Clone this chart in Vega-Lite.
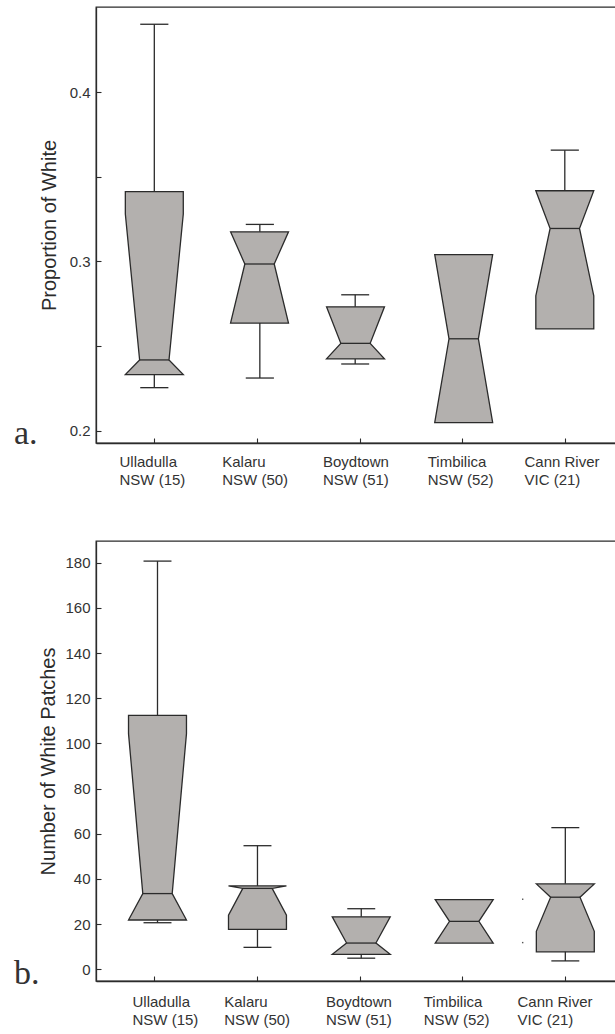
{
  "$schema": "https://vega.github.io/schema/vega-lite/v6.json",
  "padding": {"left": 13, "top": 6, "right": 0, "bottom": 0},
  "background": "white",
  "spacing": 52,
  "config": {
    "font": "Liberation Sans",
    "view": {"stroke": "#2b2b2b", "strokeWidth": 1.3},
    "axis": {
      "grid": false,
      "domainColor": "#2b2b2b",
      "domainWidth": 1.3,
      "tickColor": "#2b2b2b",
      "tickWidth": 1.1,
      "tickSize": -5,
      "labelColor": "#333333",
      "labelFont": "Liberation Sans",
      "labelFontSize": 15,
      "titleColor": "#2b2b2b",
      "titleFont": "Liberation Sans",
      "titleFontSize": 20,
      "titleFontWeight": "normal",
      "labelOverlap": false,
      "labelFlush": false,
      "labelBound": false
    }
  },
  "datasets": {
    "shape": [
      {"panel": "a", "site": "Ulladulla", "y": 0.2331, "xl": 0.721, "xr": 1.285},
      {"panel": "a", "site": "Ulladulla", "y": 0.2418, "xl": 0.860, "xr": 1.146},
      {"panel": "a", "site": "Ulladulla", "y": 0.3280, "xl": 0.721, "xr": 1.285},
      {"panel": "a", "site": "Ulladulla", "y": 0.3413, "xl": 0.721, "xr": 1.285},
      {"panel": "a", "site": "Kalaru", "y": 0.2636, "xl": 1.745, "xr": 2.309},
      {"panel": "a", "site": "Kalaru", "y": 0.2985, "xl": 1.884, "xr": 2.170},
      {"panel": "a", "site": "Kalaru", "y": 0.3175, "xl": 1.745, "xr": 2.309},
      {"panel": "a", "site": "Boydtown", "y": 0.2424, "xl": 2.679, "xr": 3.243},
      {"panel": "a", "site": "Boydtown", "y": 0.2516, "xl": 2.818, "xr": 3.104},
      {"panel": "a", "site": "Boydtown", "y": 0.2732, "xl": 2.679, "xr": 3.243},
      {"panel": "a", "site": "Timbilica", "y": 0.2047, "xl": 3.732, "xr": 4.296},
      {"panel": "a", "site": "Timbilica", "y": 0.2543, "xl": 3.871, "xr": 4.157},
      {"panel": "a", "site": "Timbilica", "y": 0.3040, "xl": 3.732, "xr": 4.296},
      {"panel": "a", "site": "Cann River", "y": 0.2601, "xl": 4.716, "xr": 5.280},
      {"panel": "a", "site": "Cann River", "y": 0.2797, "xl": 4.716, "xr": 5.280},
      {"panel": "a", "site": "Cann River", "y": 0.3195, "xl": 4.855, "xr": 5.141},
      {"panel": "a", "site": "Cann River", "y": 0.3418, "xl": 4.716, "xr": 5.280},
      {"panel": "b", "site": "Ulladulla", "y": 21.8, "xl": 0.752, "xr": 1.316},
      {"panel": "b", "site": "Ulladulla", "y": 33.5, "xl": 0.891, "xr": 1.177},
      {"panel": "b", "site": "Ulladulla", "y": 104.3, "xl": 0.752, "xr": 1.316},
      {"panel": "b", "site": "Ulladulla", "y": 112.4, "xl": 0.752, "xr": 1.316},
      {"panel": "b", "site": "Kalaru", "y": 17.7, "xl": 1.725, "xr": 2.289},
      {"panel": "b", "site": "Kalaru", "y": 23.9, "xl": 1.725, "xr": 2.289},
      {"panel": "b", "site": "Kalaru", "y": 35.8, "xl": 1.864, "xr": 2.150},
      {"panel": "b", "site": "Kalaru", "y": 36.9, "xl": 1.725, "xr": 2.289},
      {"panel": "b", "site": "Boydtown", "y": 6.6, "xl": 2.735, "xr": 3.299},
      {"panel": "b", "site": "Boydtown", "y": 11.6, "xl": 2.874, "xr": 3.160},
      {"panel": "b", "site": "Boydtown", "y": 23.2, "xl": 2.735, "xr": 3.299},
      {"panel": "b", "site": "Timbilica", "y": 11.6, "xl": 3.737, "xr": 4.301},
      {"panel": "b", "site": "Timbilica", "y": 21.2, "xl": 3.876, "xr": 4.162},
      {"panel": "b", "site": "Timbilica", "y": 30.8, "xl": 3.737, "xr": 4.301},
      {"panel": "b", "site": "Cann River", "y": 7.7, "xl": 4.721, "xr": 5.285},
      {"panel": "b", "site": "Cann River", "y": 16.8, "xl": 4.721, "xr": 5.285},
      {"panel": "b", "site": "Cann River", "y": 31.9, "xl": 4.860, "xr": 5.146},
      {"panel": "b", "site": "Cann River", "y": 37.8, "xl": 4.721, "xr": 5.285}
    ],
    "hseg": [
      {"panel": "a", "site": "Ulladulla", "kind": "median", "y": 0.2418, "xl": 0.860, "xr": 1.146},
      {"panel": "a", "site": "Ulladulla", "kind": "cap", "y": 0.4402, "xl": 0.866, "xr": 1.140},
      {"panel": "a", "site": "Ulladulla", "kind": "cap", "y": 0.2254, "xl": 0.866, "xr": 1.140},
      {"panel": "a", "site": "Kalaru", "kind": "median", "y": 0.2985, "xl": 1.884, "xr": 2.170},
      {"panel": "a", "site": "Kalaru", "kind": "cap", "y": 0.3219, "xl": 1.893, "xr": 2.167},
      {"panel": "a", "site": "Kalaru", "kind": "cap", "y": 0.2311, "xl": 1.893, "xr": 2.167},
      {"panel": "a", "site": "Boydtown", "kind": "median", "y": 0.2516, "xl": 2.818, "xr": 3.104},
      {"panel": "a", "site": "Boydtown", "kind": "cap", "y": 0.2803, "xl": 2.822, "xr": 3.094},
      {"panel": "a", "site": "Boydtown", "kind": "cap", "y": 0.2394, "xl": 2.822, "xr": 3.094},
      {"panel": "a", "site": "Timbilica", "kind": "median", "y": 0.2543, "xl": 3.871, "xr": 4.157},
      {"panel": "a", "site": "Cann River", "kind": "median", "y": 0.3195, "xl": 4.855, "xr": 5.141},
      {"panel": "a", "site": "Cann River", "kind": "cap", "y": 0.3658, "xl": 4.861, "xr": 5.135},
      {"panel": "b", "site": "Ulladulla", "kind": "median", "y": 33.5, "xl": 0.891, "xr": 1.177},
      {"panel": "b", "site": "Ulladulla", "kind": "cap", "y": 180.7, "xl": 0.898, "xr": 1.170},
      {"panel": "b", "site": "Ulladulla", "kind": "cap", "y": 20.6, "xl": 0.898, "xr": 1.170},
      {"panel": "b", "site": "Kalaru", "kind": "median", "y": 35.8, "xl": 1.864, "xr": 2.150},
      {"panel": "b", "site": "Kalaru", "kind": "cap", "y": 54.7, "xl": 1.871, "xr": 2.143},
      {"panel": "b", "site": "Kalaru", "kind": "cap", "y": 9.7, "xl": 1.871, "xr": 2.143},
      {"panel": "b", "site": "Boydtown", "kind": "median", "y": 11.6, "xl": 2.874, "xr": 3.160},
      {"panel": "b", "site": "Boydtown", "kind": "cap", "y": 26.8, "xl": 2.881, "xr": 3.153},
      {"panel": "b", "site": "Boydtown", "kind": "cap", "y": 4.9, "xl": 2.881, "xr": 3.153},
      {"panel": "b", "site": "Timbilica", "kind": "median", "y": 21.2, "xl": 3.876, "xr": 4.162},
      {"panel": "b", "site": "Cann River", "kind": "median", "y": 31.9, "xl": 4.860, "xr": 5.146},
      {"panel": "b", "site": "Cann River", "kind": "cap", "y": 62.7, "xl": 4.867, "xr": 5.139},
      {"panel": "b", "site": "Cann River", "kind": "cap", "y": 3.7, "xl": 4.867, "xr": 5.139}
    ],
    "vseg": [
      {"panel": "a", "site": "Ulladulla", "x": 1.003, "y1": 0.3413, "y2": 0.4402},
      {"panel": "a", "site": "Ulladulla", "x": 1.003, "y1": 0.2254, "y2": 0.2331},
      {"panel": "a", "site": "Kalaru", "x": 2.030, "y1": 0.3175, "y2": 0.3219},
      {"panel": "a", "site": "Kalaru", "x": 2.030, "y1": 0.2311, "y2": 0.2636},
      {"panel": "a", "site": "Boydtown", "x": 2.958, "y1": 0.2732, "y2": 0.2803},
      {"panel": "a", "site": "Boydtown", "x": 2.958, "y1": 0.2394, "y2": 0.2424},
      {"panel": "a", "site": "Cann River", "x": 4.998, "y1": 0.3418, "y2": 0.3658},
      {"panel": "b", "site": "Ulladulla", "x": 1.034, "y1": 112.4, "y2": 180.7},
      {"panel": "b", "site": "Ulladulla", "x": 1.034, "y1": 20.6, "y2": 21.8},
      {"panel": "b", "site": "Kalaru", "x": 2.007, "y1": 36.9, "y2": 54.7},
      {"panel": "b", "site": "Kalaru", "x": 2.007, "y1": 9.7, "y2": 17.7},
      {"panel": "b", "site": "Boydtown", "x": 3.017, "y1": 23.2, "y2": 26.8},
      {"panel": "b", "site": "Boydtown", "x": 3.017, "y1": 4.9, "y2": 6.6},
      {"panel": "b", "site": "Cann River", "x": 5.003, "y1": 37.8, "y2": 62.7},
      {"panel": "b", "site": "Cann River", "x": 5.003, "y1": 3.7, "y2": 7.7}
    ],
    "dots": [
      {"panel": "b", "site": "Cann River", "x": 4.588, "y": 31.0},
      {"panel": "b", "site": "Cann River", "x": 4.588, "y": 11.8}
    ],
    "tags": [
      {"panel": "a", "tag": "a."},
      {"panel": "b", "tag": "b."}
    ]
  },
  "vconcat": [
    {
      "width": 521,
      "height": 436,
      "layer": [
        {
          "data": {"name": "shape"},
          "transform": [{"filter": "datum.panel == 'a'"}],
          "mark": {"type": "area", "orient": "horizontal", "fill": "#b3b0ae", "fillOpacity": 1, "stroke": "#2b2b2b", "strokeWidth": 1.3, "strokeJoin": "miter"},
          "encoding": {
            "y": {
              "field": "y", "type": "quantitative", "title": "Proportion of White",
              "scale": {"domain": [0.1927, 0.4504], "nice": false, "zero": false},
              "axis": {
                "values": [0.2, 0.25, 0.3, 0.35, 0.4],
                "labelExpr": "abs(datum.value * 10 - round(datum.value * 10)) > 0.01 ? '' : format(datum.value, '.1f')",
                "labelPadding": 11,
                "titlePadding": 10
              }
            },
            "x": {
              "field": "xl", "type": "quantitative", "title": null,
              "scale": {"domain": [0.4355, 5.506], "nice": false, "zero": false},
              "axis": {
                "values": [1, 2, 3, 4, 5],
                "labelExpr": "[['Ulladulla', 'NSW (15)'], ['Kalaru', 'NSW (50)'], ['Boydtown', 'NSW (51)'], ['Timbilica', 'NSW (52)'], ['Cann River', 'VIC (21)']][datum.value - 1]",
                "labelAlign": "left",
                "labelBaseline": "top",
                "labelLineHeight": 18,
                "labelPadding": 16,
                "labelOffset": {"condition": [{"test": "datum.value == 5", "value": -41}, {"test": "datum.value == 3", "value": -37}], "value": -35}
              }
            },
            "x2": {"field": "xr"},
            "detail": {"field": "site", "type": "nominal"}
          }
        },
        {
          "data": {"name": "hseg"},
          "transform": [{"filter": "datum.panel == 'a'"}],
          "mark": {"type": "rule", "color": "#2b2b2b", "strokeWidth": 1.3},
          "encoding": {
            "y": {"field": "y", "type": "quantitative", "title": "Proportion of White"},
            "x": {"field": "xl", "type": "quantitative", "title": null},
            "x2": {"field": "xr"}
          }
        },
        {
          "data": {"name": "vseg"},
          "transform": [{"filter": "datum.panel == 'a'"}],
          "mark": {"type": "rule", "color": "#2b2b2b", "strokeWidth": 1.3},
          "encoding": {
            "x": {"field": "x", "type": "quantitative", "title": null},
            "y": {"field": "y1", "type": "quantitative", "title": "Proportion of White"},
            "y2": {"field": "y2"}
          }
        },
        {
          "data": {"name": "tags"},
          "transform": [{"filter": "datum.panel == 'a'"}],
          "mark": {"type": "text", "font": "Liberation Serif", "fontSize": 34, "align": "left", "baseline": "alphabetic", "dx": -82, "dy": 1, "color": "#333333"},
          "encoding": {
            "x": {"datum": 0.4355, "type": "quantitative"},
            "y": {"datum": 0.1927, "type": "quantitative"},
            "text": {"field": "tag"}
          }
        }
      ]
    },
    {
      "width": 521,
      "height": 440,
      "layer": [
        {
          "data": {"name": "shape"},
          "transform": [{"filter": "datum.panel == 'b'"}],
          "mark": {"type": "area", "orient": "horizontal", "fill": "#b3b0ae", "fillOpacity": 1, "stroke": "#2b2b2b", "strokeWidth": 1.3, "strokeJoin": "miter"},
          "encoding": {
            "y": {
              "field": "y", "type": "quantitative", "title": "Number of White Patches",
              "scale": {"domain": [-5.2, 189.6], "nice": false, "zero": false},
              "axis": {
                "values": [0, 20, 40, 60, 80, 100, 120, 140, 160, 180],
                "labelPadding": 11,
                "titlePadding": 6
              }
            },
            "x": {
              "field": "xl", "type": "quantitative", "title": null,
              "scale": {"domain": [0.4355, 5.506], "nice": false, "zero": false},
              "axis": {
                "values": [1, 2, 3, 4, 5],
                "labelExpr": "[['Ulladulla', 'NSW (15)'], ['Kalaru', 'NSW (50)'], ['Boydtown', 'NSW (51)'], ['Timbilica', 'NSW (52)'], ['Cann River', 'VIC (21)']][datum.value - 1]",
                "labelAlign": "left",
                "labelBaseline": "top",
                "labelLineHeight": 18,
                "labelPadding": 18,
                "labelOffset": {"condition": [{"test": "datum.value == 1", "value": -22}, {"test": "datum.value == 2", "value": -33}, {"test": "datum.value == 3", "value": -34}, {"test": "datum.value == 4", "value": -39}], "value": -48}
              }
            },
            "x2": {"field": "xr"},
            "detail": {"field": "site", "type": "nominal"}
          }
        },
        {
          "data": {"name": "hseg"},
          "transform": [{"filter": "datum.panel == 'b'"}],
          "mark": {"type": "rule", "color": "#2b2b2b", "strokeWidth": 1.3},
          "encoding": {
            "y": {"field": "y", "type": "quantitative", "title": "Number of White Patches"},
            "x": {"field": "xl", "type": "quantitative", "title": null},
            "x2": {"field": "xr"}
          }
        },
        {
          "data": {"name": "vseg"},
          "transform": [{"filter": "datum.panel == 'b'"}],
          "mark": {"type": "rule", "color": "#2b2b2b", "strokeWidth": 1.3},
          "encoding": {
            "x": {"field": "x", "type": "quantitative", "title": null},
            "y": {"field": "y1", "type": "quantitative", "title": "Number of White Patches"},
            "y2": {"field": "y2"}
          }
        },
        {
          "data": {"name": "dots"},
          "mark": {"type": "square", "size": 2, "color": "#555555", "filled": true, "opacity": 1},
          "encoding": {
            "x": {"field": "x", "type": "quantitative", "title": null},
            "y": {"field": "y", "type": "quantitative", "title": "Number of White Patches"}
          }
        },
        {
          "data": {"name": "tags"},
          "transform": [{"filter": "datum.panel == 'b'"}],
          "mark": {"type": "text", "font": "Liberation Serif", "fontSize": 34, "align": "left", "baseline": "alphabetic", "dx": -82, "dy": 3, "color": "#333333"},
          "encoding": {
            "x": {"datum": 0.4355, "type": "quantitative"},
            "y": {"datum": -5.2, "type": "quantitative"},
            "text": {"field": "tag"}
          }
        }
      ]
    }
  ]
}
